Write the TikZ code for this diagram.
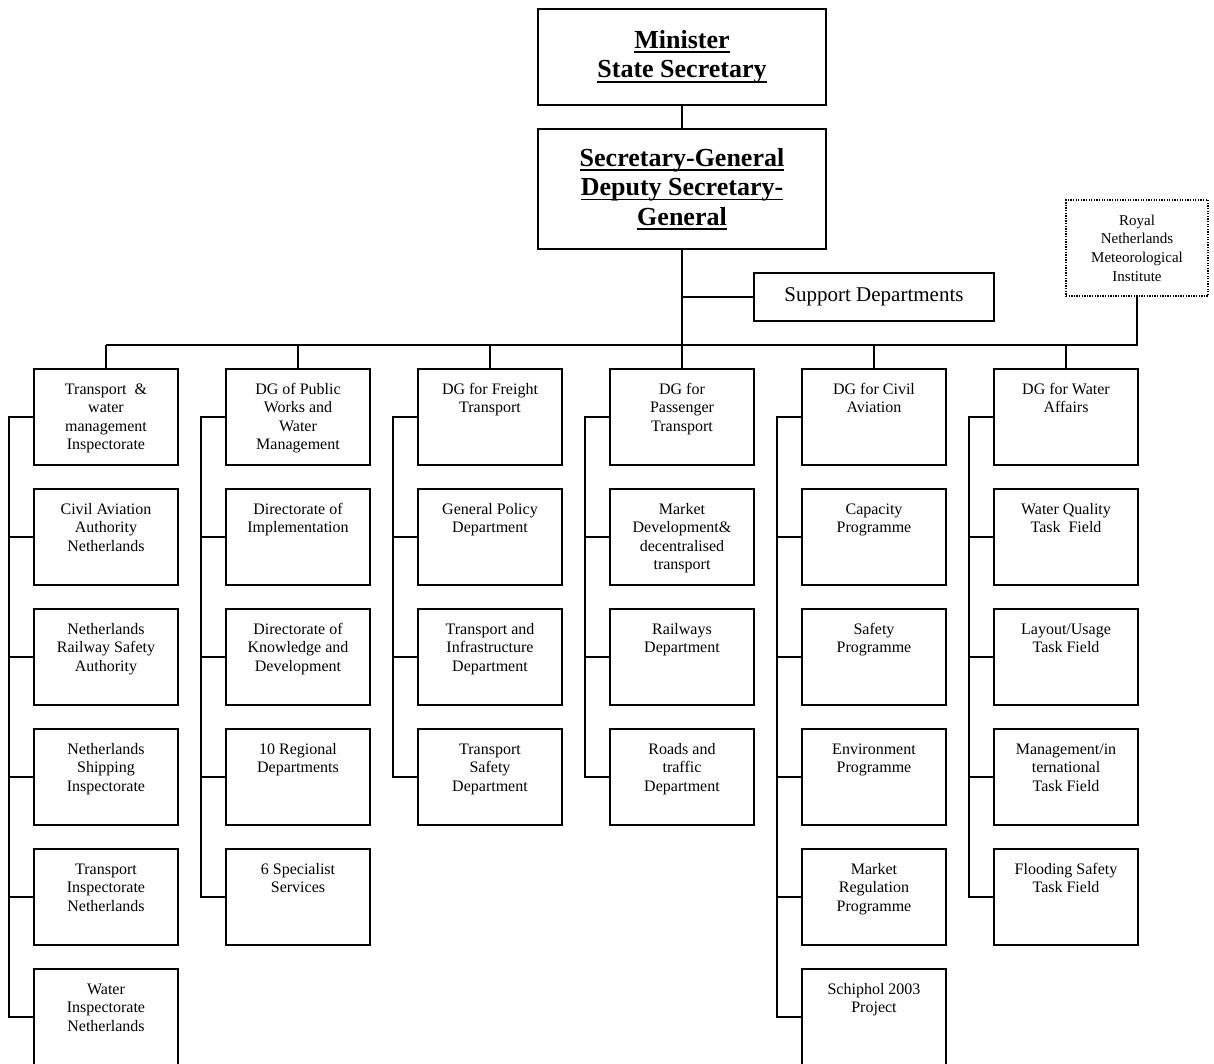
\documentclass[tikz,border=0pt]{standalone}
\usepackage{fontspec}
\setmainfont{Liberation Serif}
\newcommand\barline[1]{\setbox0\hbox{#1}\rlap{\rule[-4.6pt]{\wd0}{1.7pt}}\box0}
\newcommand\topstrut{\rule{0pt}{13pt}}
\begin{document}
\begin{tikzpicture}[x=1pt,y=-1pt,
  frame/.style={draw,line width=2pt,inner sep=0pt},
  head/.style={frame,minimum width=288pt,align=center,
    font=\fontsize{26}{29.5}\selectfont\bfseries},
  cbox/.style={frame,minimum width=144pt,minimum height=96pt},
  ctext/.style={anchor=north,align=center,inner sep=0pt,
    font=\fontsize{16}{18.5}\selectfont},
  wire/.style={draw,line width=2pt}]
\useasboundingbox (0,0) rectangle (1214,1063);
\clip (0,0) rectangle (1214,1063);
\fill[white] (0,0) rectangle (1214,1063);

% top of the hierarchy
\node[head,minimum height=96pt] (min) at (682,57)
  {\barline{Minister}\\\barline{State Secretary}};
\node[head,minimum height=120pt] (sg) at (682,189)
  {\barline{Secretary-General}\\\barline{Deputy Secretary-}\\\barline{General}};
\node[frame,minimum width=240pt,minimum height=48pt,
  font=\fontsize{21}{24}\selectfont] (sup) at (874,297) {Support Departments};
\node[draw,line width=1.3pt,dash pattern=on 1.3pt off 1.3pt,inner sep=0pt,
  minimum width=142pt,minimum height=96pt,align=center,
  font=\fontsize{15}{18.7}\selectfont] (roy) at (1137,248)
  {Royal\\Netherlands\\Meteorological\\Institute};

% box with text set from its top edge
\newcommand\orgbox[4]{%
  \node[cbox] (#1) at (#2,#3) {};
  \node[ctext] (#1t) at ([yshift=-13pt]#1.north) {\topstrut#4};}

% column 1
\orgbox{a1}{106}{417}{Transport\ \ \&\\water\\management\\Inspectorate}
\orgbox{a2}{106}{537}{Civil Aviation\\Authority\\Netherlands}
\orgbox{a3}{106}{657}{Netherlands\\Railway Safety\\Authority}
\orgbox{a4}{106}{777}{Netherlands\\Shipping\\Inspectorate}
\orgbox{a5}{106}{897}{Transport\\Inspectorate\\Netherlands}
\orgbox{a6}{106}{1017}{Water\\Inspectorate\\Netherlands}
% column 2
\orgbox{b1}{298}{417}{DG of Public\\Works and\\Water\\Management}
\orgbox{b2}{298}{537}{Directorate of\\Implementation}
\orgbox{b3}{298}{657}{Directorate of\\Knowledge and\\Development}
\orgbox{b4}{298}{777}{10 Regional\\Departments}
\orgbox{b5}{298}{897}{6 Specialist\\Services}
% column 3
\orgbox{c1}{490}{417}{DG for Freight\\Transport}
\orgbox{c2}{490}{537}{General Policy\\Department}
\orgbox{c3}{490}{657}{Transport and\\Infrastructure\\Department}
\orgbox{c4}{490}{777}{Transport\\Safety\\Department}
% column 4
\orgbox{d1}{682}{417}{DG for\\Passenger\\Transport}
\orgbox{d2}{682}{537}{Market\\Development\&\\decentralised\\transport}
\orgbox{d3}{682}{657}{Railways\\Department}
\orgbox{d4}{682}{777}{Roads and\\traffic\\Department}
% column 5
\orgbox{e1}{874}{417}{DG for Civil\\Aviation}
\orgbox{e2}{874}{537}{Capacity\\Programme}
\orgbox{e3}{874}{657}{Safety\\Programme}
\orgbox{e4}{874}{777}{Environment\\Programme}
\orgbox{e5}{874}{897}{Market\\Regulation\\Programme}
\orgbox{e6}{874}{1017}{Schiphol 2003\\Project}
% column 6
\orgbox{f1}{1066}{417}{DG for Water\\Affairs}
\orgbox{f2}{1066}{537}{Water Quality\\Task\ \ Field}
\orgbox{f3}{1066}{657}{Layout/Usage\\Task Field}
\orgbox{f4}{1066}{777}{Management/in\\ternational\\Task Field}
\orgbox{f5}{1066}{897}{Flooding Safety\\Task Field}

% main trunk and distribution bar
\coordinate (barL) at (106,345);
\path[wire] (min.south) -- (sg.north);
\path[wire] (sg.south) -- (sg.south |- barL);
\path[wire] (sg.south |- sup.west) -- (sup.west);
\path[wire] (roy.south) -- (roy.south |- barL) -- (barL);
\foreach \c in {a,b,c,d,e,f}
  \path[wire] (\c1.north) -- (\c1.north |- barL);

% side brackets of each column
\foreach \c/\n in {a/6,b/5,c/4,d/4,e/6,f/5}{
  \path[wire] (\c1.west) -- ++(-24,0) |- (\c\n.west);
  \foreach \r in {2,...,\n}
    \path[wire] (\c\r.west) -- ++(-24,0);
}
\end{tikzpicture}
\end{document}
